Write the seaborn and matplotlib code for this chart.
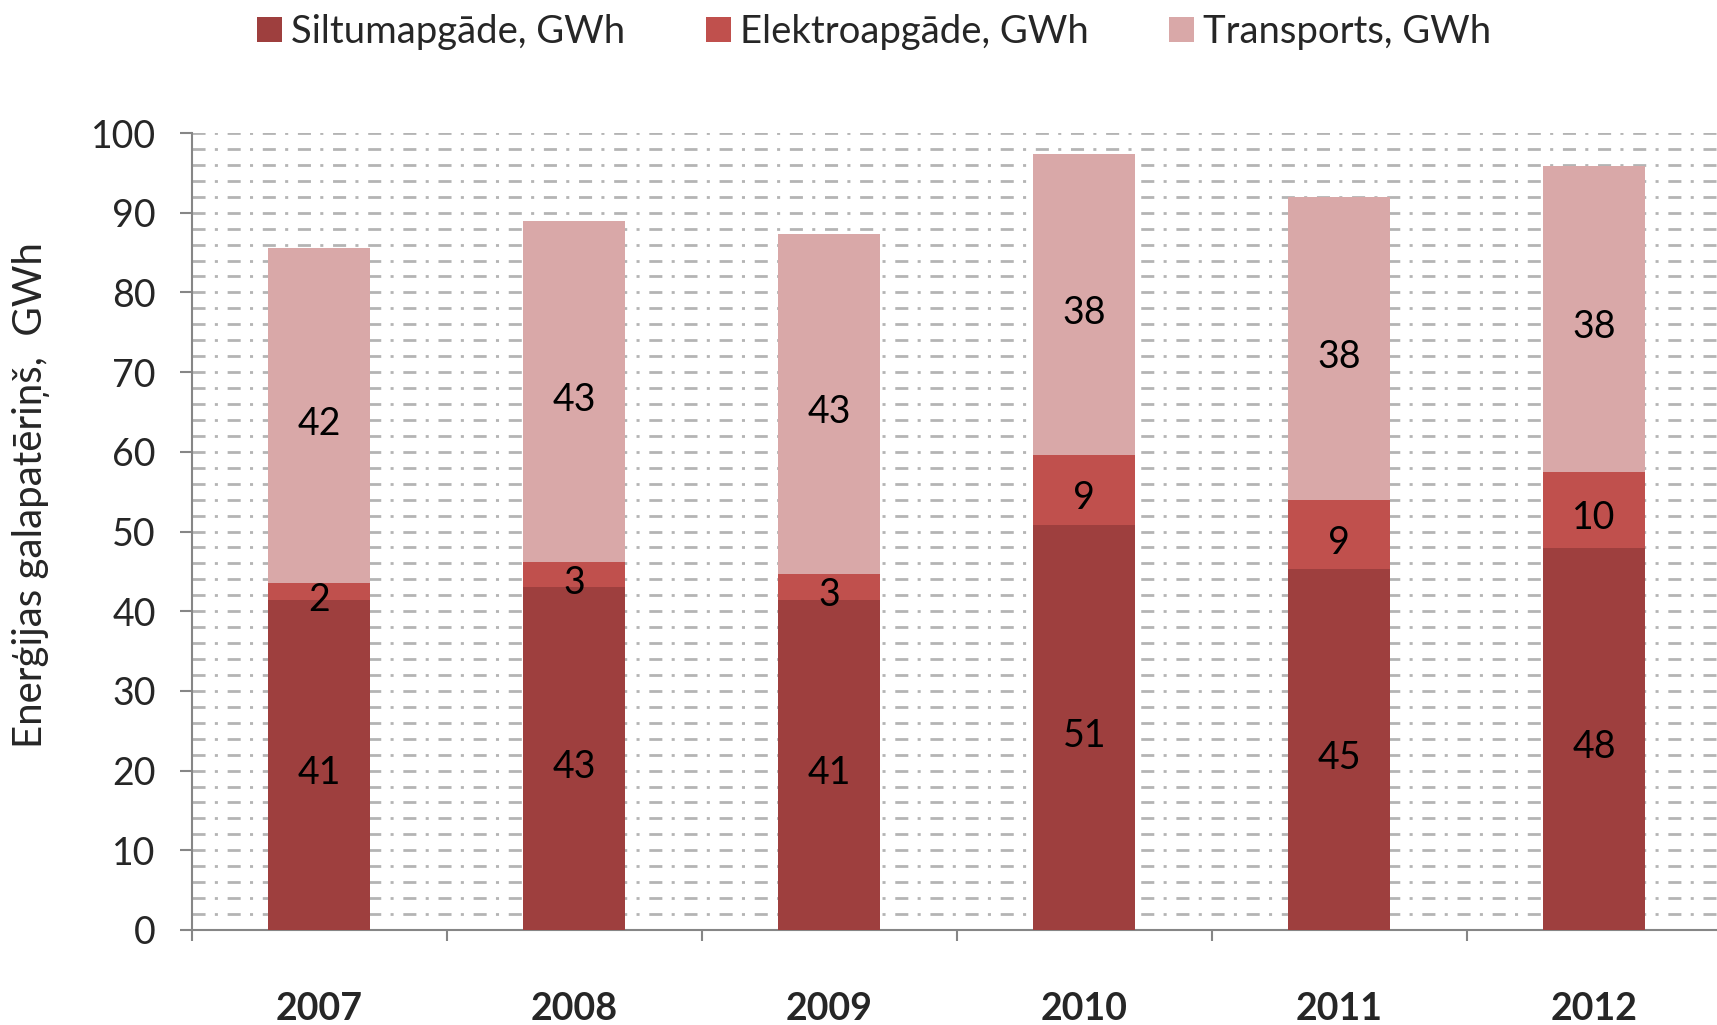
import numpy as np
import pandas as pd
import matplotlib
matplotlib.use("Agg")
import matplotlib.pyplot as plt
import seaborn as sns
from matplotlib.patches import Patch

years = ["2007", "2008", "2009", "2010", "2011", "2012"]
siltum = [41.4, 43.0, 41.4, 50.8, 45.3, 47.9]
elektro = [2.1, 3.2, 3.3, 8.8, 8.7, 9.6]
transport = [42.1, 42.8, 42.6, 37.8, 38.0, 38.4]
series_names = ["Siltumapgāde, GWh", "Elektroapgāde, GWh", "Transports, GWh"]
ylabel = "Enerģijas galapatēriņš,  GWh"

c_s = "#9E3F3E"
c_e = "#C0504D"
c_t = "#D9A8A8"
grid_c = "#B4B4B4"
spine_c = "#868686"

sns.set_theme(style="white")
plt.rcParams["font.family"] = ["Lato", "DejaVu Sans"]

df = pd.DataFrame({"year": years, "s": siltum, "e": elektro, "t": transport})
df["se"] = df["s"] + df["e"]
df["total"] = df["se"] + df["t"]

fig = plt.figure(figsize=(17.17, 10.25), dpi=100)
ax = fig.add_axes([0.1118, 0.0927, 1.0027 - 0.1118, 0.8702 - 0.0927])

for col, c in [("total", c_t), ("se", c_e), ("s", c_s)]:
    sns.barplot(data=df, x="year", y=col, color=c, width=0.4, saturation=1,
                linewidth=0, ax=ax, zorder=3)

fs = 27
for i in range(len(years)):
    s, e, t = siltum[i], elektro[i], transport[i]
    for y, v in [(s / 2, s), (s + e / 2, e), (s + e + t / 2, t)]:
        ax.annotate(f"{v:.0f}", xy=(i, y), xytext=(0, -6),
                    textcoords="offset points", ha="center", va="center",
                    fontsize=fs, color="black", zorder=5)

ax.set_ylim(0, 100)
ax.set_xlim(-0.5, 5.5)
ax.set_yticks(np.arange(0, 101, 10))
ax.set_yticks(np.arange(0, 101, 2), minor=True)
ax.set_axisbelow(True)
ax.grid(which="both", axis="y", color=grid_c, lw=2,
        linestyle=(0, (4.7, 3.35, 1.1, 3.5)))
ax.grid(which="both", axis="x", visible=False)

ax.set_xticks(np.arange(-0.5, 6.0, 1.0), minor=True)
ax.tick_params(axis="x", which="major", length=0, pad=45, labelsize=fs)
ax.tick_params(axis="x", which="minor", length=8, width=1.5, color=spine_c,
               direction="out", bottom=True)
ax.tick_params(axis="y", which="major", length=9, width=1.5, color=spine_c,
               direction="out", left=True, labelsize=fs, pad=17)
ax.tick_params(axis="y", which="minor", length=0)
for lab in ax.get_xticklabels():
    lab.set_fontweight("bold")

ax.set_xlabel("")
ax.set_ylabel("")
for sp in ["top", "right"]:
    ax.spines[sp].set_visible(False)
for sp in ["left", "bottom"]:
    ax.spines[sp].set_color(spine_c)
    ax.spines[sp].set_linewidth(1.5)

fig.text(31 / 1717, 1 - 495 / 1025, ylabel, rotation=90, ha="center",
         va="center", fontsize=29)

handles = [Patch(facecolor=c, edgecolor="none") for c in (c_s, c_e, c_t)]
fig.legend(handles, series_names, loc="center left",
           bbox_to_anchor=(257 / 1717, 1 - 32 / 1025), ncol=3, frameon=False,
           fontsize=27.5, handlelength=0.65, handleheight=0.65,
           handletextpad=0.25, columnspacing=2.1, borderpad=0, borderaxespad=0)

fig.savefig("out.png", dpi=100)
